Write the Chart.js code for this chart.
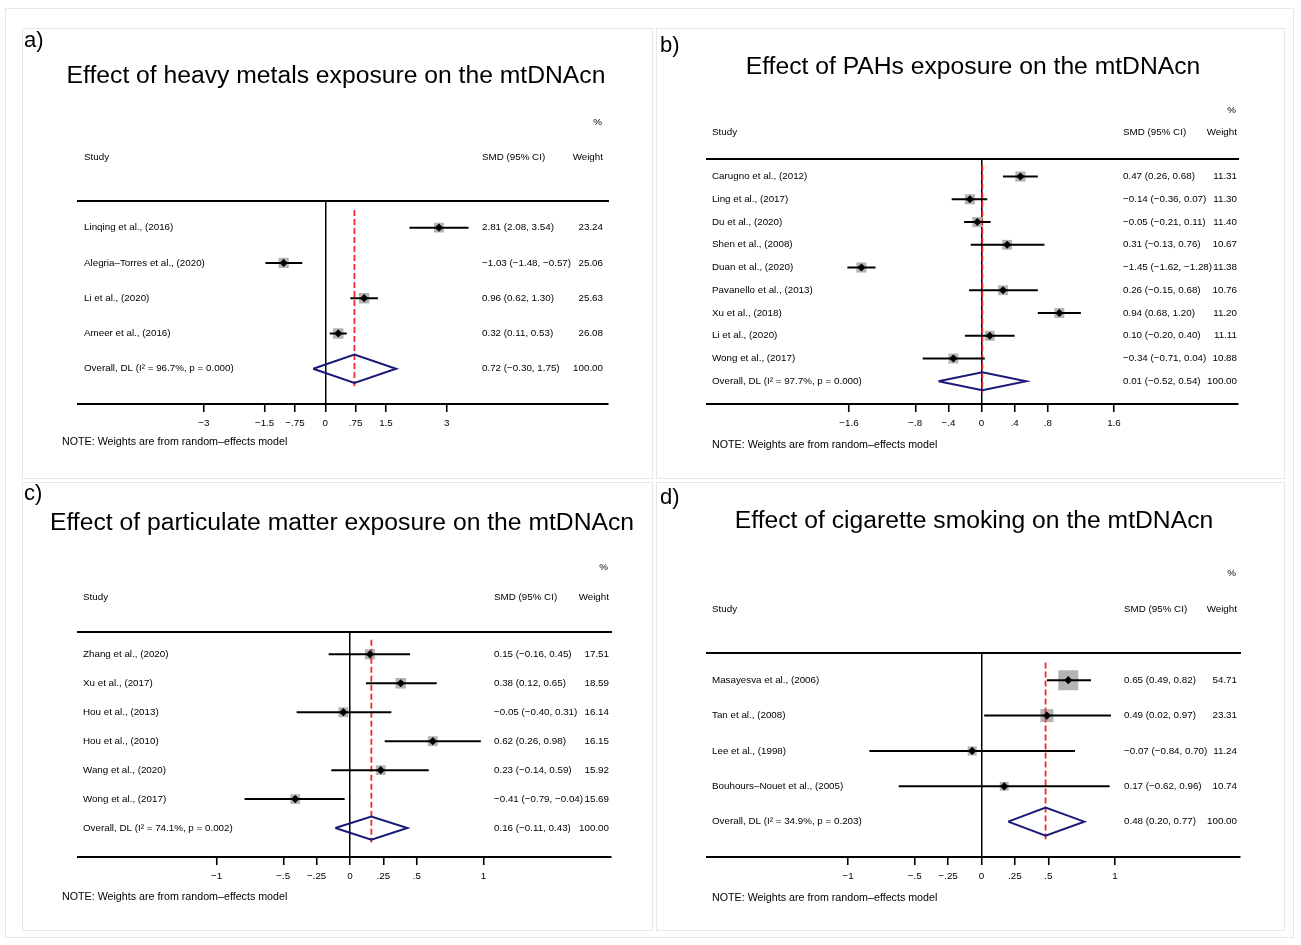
<!DOCTYPE html>
<html><head><meta charset="utf-8">
<script src="https://cdn.jsdelivr.net/npm/chart.js@4.4.1/dist/chart.umd.min.js"></script>
<style>
html,body{margin:0;padding:0;background:#fff;}
#fig{position:relative;width:1301px;height:945px;overflow:hidden;background:#fff;font-family:'Liberation Sans',Arial,Helvetica,sans-serif;color:#000;}
.frame{position:absolute;box-sizing:border-box;border:1.5px solid #e3eaec;}
.outer{position:absolute;box-sizing:border-box;border:1px solid #e6e9ea;}
.t{position:absolute;white-space:nowrap;line-height:1;}
canvas{position:absolute;}
</style></head><body><div id="fig"></div>
<script>
// ---------- DATA ----------
// a) heavy metals
const aStudies = ["Linqing et al., (2016)", "Alegria–Torres et al., (2020)", "Li et al., (2020)", "Ameer et al., (2016)", "Overall, DL (I² = 96.7%, p = 0.000)"];
const aSMD    = [2.81, -1.03, 0.96, 0.32, 0.72];
const aLow    = [2.08, -1.48, 0.62, 0.11, -0.30];
const aHigh   = [3.54, -0.57, 1.30, 0.53, 1.75];
const aWeight = [23.24, 25.06, 25.63, 26.08, 100.00];
const aTicks  = [-3, -1.5, -0.75, 0, 0.75, 1.5, 3];
const aTickLabels = ["−3", "−1.5", "−.75", "0", ".75", "1.5", "3"];

// b) PAHs
const bStudies = ["Carugno et al., (2012)", "Ling et al., (2017)", "Du et al., (2020)", "Shen et al., (2008)", "Duan et al., (2020)", "Pavanello et al., (2013)", "Xu et al., (2018)", "Li et al., (2020)", "Wong et al., (2017)", "Overall, DL (I² = 97.7%, p = 0.000)"];
const bSMD    = [0.47, -0.14, -0.05, 0.31, -1.45, 0.26, 0.94, 0.10, -0.34, 0.01];
const bLow    = [0.26, -0.36, -0.21, -0.13, -1.62, -0.15, 0.68, -0.20, -0.71, -0.52];
const bHigh   = [0.68, 0.07, 0.11, 0.76, -1.28, 0.68, 1.20, 0.40, 0.04, 0.54];
const bWeight = [11.31, 11.30, 11.40, 10.67, 11.38, 10.76, 11.20, 11.11, 10.88, 100.00];
const bTicks  = [-1.6, -0.8, -0.4, 0, 0.4, 0.8, 1.6];
const bTickLabels = ["−1.6", "−.8", "−.4", "0", ".4", ".8", "1.6"];

// c) particulate matter
const cStudies = ["Zhang et al., (2020)", "Xu et al., (2017)", "Hou et al., (2013)", "Hou et al., (2010)", "Wang et al., (2020)", "Wong et al., (2017)", "Overall, DL (I² = 74.1%, p = 0.002)"];
const cSMD    = [0.15, 0.38, -0.05, 0.62, 0.23, -0.41, 0.16];
const cLow    = [-0.16, 0.12, -0.40, 0.26, -0.14, -0.79, -0.11];
const cHigh   = [0.45, 0.65, 0.31, 0.98, 0.59, -0.04, 0.43];
const cWeight = [17.51, 18.59, 16.14, 16.15, 15.92, 15.69, 100.00];
const cTicks  = [-1, -0.5, -0.25, 0, 0.25, 0.5, 1];
const cTickLabels = ["−1", "−.5", "−.25", "0", ".25", ".5", "1"];

// d) cigarette smoking
const dStudies = ["Masayesva et al., (2006)", "Tan et al., (2008)", "Lee et al., (1998)", "Bouhours–Nouet et al., (2005)", "Overall, DL (I² = 34.9%, p = 0.203)"];
const dSMD    = [0.65, 0.49, -0.07, 0.17, 0.48];
const dLow    = [0.49, 0.02, -0.84, -0.62, 0.20];
const dHigh   = [0.82, 0.97, 0.70, 0.96, 0.77];
const dWeight = [54.71, 23.31, 11.24, 10.74, 100.00];
const dTicks  = [-1, -0.5, -0.25, 0, 0.25, 0.5, 1];
const dTickLabels = ["−1", "−.5", "−.25", "0", ".25", ".5", "1"];

const titles = ["Effect of heavy metals exposure on the mtDNAcn", "Effect of PAHs exposure on the mtDNAcn", "Effect of particulate matter exposure on the mtDNAcn", "Effect of cigarette smoking on the mtDNAcn"];
const letters = ["a)", "b)", "c)", "d)"];
const noteText = "NOTE: Weights are from random–effects model";

// ---------- LAYOUT / STYLE ----------
const FONT = "'Liberation Sans', Arial, Helvetica, sans-serif";
const NAVY = '#1a1a78';
const AXH = 40;
const DH = 0.4;
const ROWFONT = 9.8;

const panels = [
  { studies:aStudies, smd:aSMD, lo:aLow, hi:aHigh, w:aWeight, ticks:aTicks, tickLabels:aTickLabels,
    box:{x:22,y:28,w:631,h:451}, area:{l:78,r:608,t:200.5,b:404}, zero:325.3, unit:40.45, boxK:2.05,
    col:{lab:6, ci:404, wt:5}, hdrY:157, pctY:122, title:{x:336,y:75}, letter:{x:24,y:40}, note:{x:62,y:441} },
  { studies:bStudies, smd:bSMD, lo:bLow, hi:bHigh, w:bWeight, ticks:bTicks, tickLabels:bTickLabels,
    box:{x:656,y:28,w:629,h:451}, area:{l:707,r:1238,t:159,b:404}, zero:981.5, unit:82.8, boxK:3.0,
    col:{lab:5, ci:416, wt:1}, hdrY:132, pctY:110, title:{x:973,y:66}, letter:{x:660,y:45}, note:{x:712,y:444} },
  { studies:cStudies, smd:cSMD, lo:cLow, hi:cHigh, w:cWeight, ticks:cTicks, tickLabels:cTickLabels,
    box:{x:22,y:482,w:631,h:449}, area:{l:78,r:611,t:632,b:857}, zero:350, unit:133.5, boxK:2.45,
    col:{lab:5, ci:416, wt:2}, hdrY:597, pctY:567, title:{x:342,y:522}, letter:{x:24,y:493}, note:{x:62,y:896} },
  { studies:dStudies, smd:dSMD, lo:dLow, hi:dHigh, w:dWeight, ticks:dTicks, tickLabels:dTickLabels,
    box:{x:656,y:482,w:629,h:449}, area:{l:707,r:1240,t:653,b:857}, zero:981.5, unit:133.5, boxK:2.7,
    col:{lab:5, ci:417, wt:3}, hdrY:609, pctY:573, title:{x:974,y:520}, letter:{x:660,y:497}, note:{x:712,y:897} }
];

const fig = document.getElementById('fig');
function txt(str, x, y, size, align){
  const d = document.createElement('div');
  d.className = 't';
  d.textContent = str;
  d.style.left = x + 'px';
  d.style.top = y + 'px';
  d.style.fontSize = size + 'px';
  const tx = align === 'center' ? '-50%' : (align === 'right' ? '-100%' : '0');
  d.style.transform = 'translate(' + tx + ',-50%)';
  fig.appendChild(d);
}
function fmt(v){ return v.toFixed(2).replace('-', '−'); }
function noPad(s){ s.paddingTop = 0; s.paddingBottom = 0; s.paddingLeft = 0; s.paddingRight = 0; }

const outer = document.createElement('div');
outer.className = 'outer';
Object.assign(outer.style, {left:'5px', top:'8px', width:'1289px', height:'930px'});
fig.appendChild(outer);

panels.forEach((p, k) => {
  const fr = document.createElement('div');
  fr.className = 'frame';
  Object.assign(fr.style, {left:p.box.x+'px', top:p.box.y+'px', width:p.box.w+'px', height:p.box.h+'px'});
  fig.appendChild(fr);

  const n = p.studies.length;
  const ov = n - 1;
  const cv = document.createElement('canvas');
  cv.width = p.box.w; cv.height = p.box.h;
  Object.assign(cv.style, {left:p.box.x+'px', top:p.box.y+'px', width:p.box.w+'px', height:p.box.h+'px'});
  fig.appendChild(cv);

  const xMin = (p.area.l - p.zero) / p.unit;
  const xMax = (p.area.r - p.zero) / p.unit;
  const yMin = 0.23, yMax = n + 1;
  const rowTicks = s => { s.ticks = p.studies.map((_, i) => ({value: i + 1})); };
  const yFit = s => { s.width = 0; noPad(s); };
  const tickFont = {family: FONT, size: ROWFONT};

  const datasets = [];
  datasets.push({ label:'estimate', data: p.smd.slice(0, ov).map((v, i) => ({x:v, y:i+1})),
    pointStyle:'rectRot', pointRadius:4.1, backgroundColor:'#000', borderWidth:0, order:0 });
  for (let i = 0; i < ov; i++) {
    datasets.push({ label:'ci'+i, data:[{x:p.lo[i], y:i+1}, {x:p.hi[i], y:i+1}], showLine:true,
      borderColor:'#000', borderWidth:2, pointRadius:0, borderCapStyle:'butt', order:1 });
  }
  datasets.push({ label:'overall', data:[
      {x:p.lo[ov], y:ov+1}, {x:p.smd[ov], y:ov+1-DH}, {x:p.hi[ov], y:ov+1}, {x:p.smd[ov], y:ov+1+DH}, {x:p.lo[ov], y:ov+1}],
    showLine:true, borderColor:NAVY, borderWidth:2, pointRadius:0, borderJoinStyle:'miter', fill:false, order:2 });
  datasets.push({ label:'pooled', data:[{x:p.smd[ov], y:0.5}, {x:p.smd[ov], y:ov+1.5}], showLine:true,
    borderColor:'#f22a2a', borderWidth:1.8, borderDash:[6,3], pointRadius:0, order:3 });
  datasets.push({ label:'weight', data: p.smd.slice(0, ov).map((v, i) => ({x:v, y:i+1})),
    pointStyle:'rect', pointRadius: p.w.slice(0, ov).map(w => p.boxK * Math.sqrt(w) / Math.SQRT2),
    backgroundColor:'#b3b3b3', borderWidth:0, order:4 });

  new Chart(cv, {
    type:'scatter',
    data:{ datasets },
    options:{
      responsive:false, animation:false, events:[],
      layout:{ autoPadding:false, padding:{ left:p.area.l - p.box.x, right:p.box.x + p.box.w - p.area.r, top:p.area.t - p.box.y, bottom:p.box.y + p.box.h - p.area.b - AXH } },
      plugins:{ legend:{display:false}, tooltip:{enabled:false}, title:{display:false} },
      scales:{
        x:{ type:'linear', position:'bottom', min:xMin, max:xMax, bounds:'data',
          afterBuildTicks: s => { s.ticks = p.ticks.map(v => ({value:v})); },
          afterFit: s => { s.height = AXH; noPad(s); },
          grid:{ display:true, drawOnChartArea:true, drawTicks:true, tickLength:8, tickWidth:1.6, tickColor:'#000',
                 color: c => (c.tick && c.tick.value === 0) ? '#000' : 'rgba(0,0,0,0)', lineWidth:1.5 },
          border:{ display:true, color:'#000', width:2 },
          ticks:{ autoSkip:false, maxRotation:0, padding:5, color:'#000', font:tickFont, callback:(v, i) => p.tickLabels[i] } },
        xTop:{ type:'linear', position:'top', min:xMin, max:xMax, bounds:'data',
          afterFit: s => { s.height = 0; noPad(s); },
          grid:{ display:false }, ticks:{ display:false }, border:{ display:true, color:'#000', width:2 } },
        y:{ type:'linear', position:'left', reverse:true, min:yMin, max:yMax, bounds:'data',
          afterBuildTicks: rowTicks, afterFit: yFit, grid:{display:false}, border:{display:false},
          ticks:{ mirror:true, crossAlign:'near', padding:p.col.lab, autoSkip:false, color:'#000', font:tickFont,
                  callback:(v, i) => p.studies[i] } },
        yCI:{ type:'linear', position:'left', reverse:true, min:yMin, max:yMax, bounds:'data',
          afterBuildTicks: rowTicks, afterFit: yFit, grid:{display:false}, border:{display:false},
          ticks:{ mirror:true, crossAlign:'near', padding:p.col.ci, autoSkip:false, color:'#000', font:tickFont,
                  callback:(v, i) => fmt(p.smd[i]) + ' (' + fmt(p.lo[i]) + ', ' + fmt(p.hi[i]) + ')' } },
        yW:{ type:'linear', position:'right', reverse:true, min:yMin, max:yMax, bounds:'data',
          afterBuildTicks: rowTicks, afterFit: yFit, grid:{display:false}, border:{display:false},
          ticks:{ mirror:true, crossAlign:'near', padding:-p.col.wt, autoSkip:false, color:'#000', font:tickFont,
                  callback:(v, i) => p.w[i].toFixed(2) } }
      }
    }
  });

  txt(letters[k], p.letter.x, p.letter.y, 22, 'left');
  txt(titles[k], p.title.x, p.title.y, 24.7, 'center');
  txt('%', p.area.r - p.col.wt - 1, p.pctY, ROWFONT, 'right');
  txt('Study', p.area.l + p.col.lab, p.hdrY, ROWFONT, 'left');
  txt('SMD (95% CI)', p.area.l + p.col.ci, p.hdrY, ROWFONT, 'left');
  txt('Weight', p.area.r - p.col.wt, p.hdrY, ROWFONT, 'right');
  txt(noteText, p.note.x, p.note.y, 10.7, 'left');
});
</script></body></html>
